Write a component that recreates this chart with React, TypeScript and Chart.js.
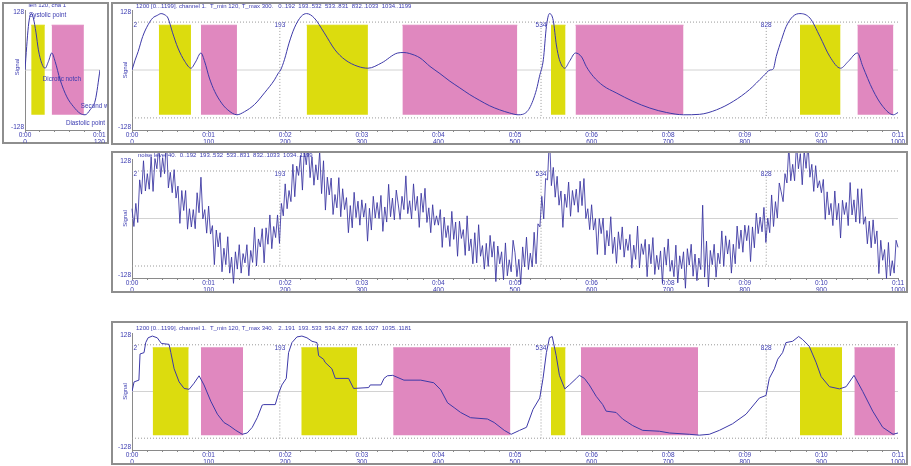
import React, { useEffect, useRef } from 'react';
import { Chart, registerables } from 'chart.js';

Chart.register(...registerables);

const FONT = '"Liberation Sans", Arial, Helvetica, sans-serif';
const TEXT_BLUE = '#3a3ab0';
const TRACE = '#3d39a8';
const YELLOW = '#dcdc0e';
const PINK = '#e088bf';
const AXIS = '#8a8a8a';
const DOT = '#9a9a9a';
const ZERO = '#d2d2d2';

// ---------- data ----------
const timeLabels = ['0:00', '0:01', '0:02', '0:03', '0:04', '0:05', '0:06', '0:08', '0:09', '0:10', '0:11'];
const yTickValues = [-128, 128];
const refLevels = [107, -107];
const rectLevels = [100, -100];
const markerSamples = [2, 193, 534, 828];

// single pulse (panel A), [sample, value]
const pulseWave: [number, number][] = [
  [0, 0], [2.7, 52], [5.4, 97], [8.1, 121], [10.8, 126], [13.5, 116], [17.8, 83], [21.6, 45], [27, 15],
  [32.4, 4], [37.8, 19], [43.2, 38], [48.6, 19], [56.7, -22], [67.5, -60], [78.3, -82], [89, -97],
  [97, -100], [105, -89], [113.5, -67], [121, 0],
];
const pulseRects: [number, number, string][] = [[10, 32, 'S'], [43, 95, 'D']];
const pulseNotes: [string, number, number][] = [
  ['Systolic point', 6.5, 123], ['Dicrotic notch', 28.7, -20], ['Second wave', 90, -80], ['Diastolic point', 66, -120],
];

// clean signal (panel B), [sample, value]
const cleanWave: [number, number][] = [
  [0, 0], [4, 22], [8, 41], [14, 75], [21, 101], [27, 116], [33, 122], [38, 126], [43, 123], [47, 116], [53, 83],
  [60, 49], [69, 19], [77, 4], [83, 18], [90, 38], [95, 18], [101, -18], [108, -48], [117, -74], [125, -89],
  [137, -100], [147, -93], [160, -77], [173, -51], [186, -22], [191, -7], [194, 0], [199, 23], [205, 60],
  [212, 94], [221, 120], [228, 126], [238, 116], [251, 83], [265, 45], [278, 23], [295, 8], [308, 4],
  [326, 16], [347, 38], [355, 39], [362, 37], [376, 27], [389, 8], [402, -8], [415, -25], [428, -40],
  [441, -55], [454, -68], [467, -80], [480, -89], [493, -96], [504, -100], [510, -99], [519, -85], [528, -44],
  [532, -14], [537, 23], [541, 97], [545, 126], [550, 110], [554, 56], [558, 23], [565, 4], [571, 19],
  [579, 38], [587, 29], [593, 8], [602, -14], [615, -35], [632, -51], [654, -70], [676, -85], [698, -95],
  [720, -100], [741, -99], [763, -89], [785, -70], [806, -44], [824, -14], [833, 0], [837, 2], [841, 30],
  [848, 68], [854, 97], [863, 120], [872, 126], [885, 116], [898, 75], [911, 30], [925, 4], [935, 19],
  [947, 38], [954, 8], [967, -44], [980, -81], [994, -100], [1000, -95],
];
const cleanRects: [number, number, string][] = [
  [35, 77, 'S'], [90, 137, 'D'], [228, 308, 'S'], [353, 503, 'D'],
  [547, 566, 'S'], [579, 720, 'D'], [872, 925, 'S'], [947, 994, 'D'],
];

// noisy signal (panel C), one value every noisyStep samples
const noisyStep = 2.5;
const noisyWave = [
  22, -18, 34, -9, 87, 55, 130, 62, 101, 66, 139, 61, 135, 112, 166, 93, 137, 101, 179, 69,
  104, 58, 110, 46, 73, -11, 63, 18, 63, -24, 22, -19, 20, -23, 58, 13, 93, -1, 20, -33,
  28, -35, -16, -104, -26, -64, -32, -120, -67, -104, -41, -123, -87, -146, -75, -114, -59, -123, -79, -100,
  -59, -129, -72, -99, -20, -107, -46, -64, -23, -100, -21, -58, 8, -68, -18, -43, 8, -56, 34, 6,
  78, 22, 63, 38, 122, 49, 118, 97, 142, 64, 155, 121, 167, 92, 139, 75, 121, 87, 151, 56,
  130, 19, 93, 53, 91, 9, 54, 24, 92, 4, 67, 20, 47, -32, 29, -21, 59, 2, 39, -15,
  42, 3, 34, -51, 23, -26, 50, 1, 36, 0, 52, -29, 26, -8, 77, 4, 46, -3, 64, 33,
  -2, 50, 20, 96, 11, 40, -1, 78, 18, 50, -20, 57, 14, 68, -9, 24, -32, 31, -15, 6,
  -15, 20, -65, 3, -43, -16, -63, 16, -47, -8, -85, -6, -45, -25, -83, 6, -73, -46, -102, -32,
  -100, -14, -85, -61, -114, -56, -108, -38, -87, -52, -142, -62, -102, -75, -138, -55, -129, -93, -120, -49,
  -77, -131, -92, -147, -64, -109, -42, -115, -78, -109, -31, -102, -12, -19, 50, -1, 90, 87, 186, 74,
  115, 48, 95, 30, 62, -20, 55, 25, 82, 5, 63, 30, 66, 14, 84, 29, 90, 0, 22, -25,
  31, -26, 0, -81, 0, -34, 1, -82, -27, -62, 4, -79, -42, -101, -30, -70, -19, -87, -46, -72,
  -36, -112, -60, -92, -17, -111, -57, -81, -47, -131, -58, -102, -43, -126, -83, -115, -73, -146, -65, -105,
  -46, -119, -94, -131, -60, -145, -84, -113, -75, -157, -68, -105, -58, -130, -80, -140, -89, -115, 30, -132,
  -51, -154, -72, -104, -58, -132, -78, -102, -28, -108, -39, -80, -48, -123, -58, -102, -17, -68, -26, -76,
  -15, -50, -16, -97, -19, -66, 12, -34, 3, -30, 25, -54, 1, -32, 53, -18, 38, 1, 80, 60,
  38, 101, 80, 163, 85, 122, 85, 168, 112, 146, 76, 154, 113, 168, 93, 122, 61, 119, 69, 85,
  58, 88, -2, 60, 8, 34, -16, 62, -3, 34, -44, 41, 9, 36, -16, 81, 8, 42, -8, 67,
  -11, 67, -13, 4, -57, -6, -66, -3, -57, -28, -124, -49, -94, -70, -135, -54, -129, -95, -123, -49, -65,
];

// staircase signal (panel D), [sample, value]
const stairWave: [number, number][] = [
  [0, 0], [2.7, 22], [9, 26], [10.5, 86], [15.7, 89], [17.9, 112], [21, 123], [26.6, 127], [33, 123], [38.4, 110],
  [48.4, 108], [50.7, 89], [55, 52], [61.5, 22], [68, 7], [74.6, 5], [81, 19], [87.6, 36], [94, 15], [102.8, -22],
  [111.5, -52], [120, -71], [126.8, -78], [135.5, -89], [144, -98], [150.4, -95], [157, -82], [163.5, -60],
  [170, -31], [172, -30], [187, -30], [191.4, -4], [195.7, 15], [201.4, 30], [204.4, 89], [208.8, 112],
  [215.3, 125], [221.8, 127], [228.4, 123], [235, 115], [241.5, 112], [243.6, 82], [250, 74], [252, 67],
  [261, 52], [265.4, 30], [282.8, 30], [289.3, 7], [309, 9], [311, 15], [325, 15], [329, 30], [333.4, 36],
  [340.4, 37], [355, 26], [377, 26], [394, 20], [403, 4], [412, -26], [420.6, -37], [429, -48], [442, -60],
  [464, -63], [472.8, -71], [486, -89], [495, -98], [506, -89], [515, -82], [523.5, -41], [532.3, -15],
  [536.6, 30], [541, 89], [545, 123], [548.6, 126], [553.8, 82], [558, 37], [565, 6], [571, 15], [580, 30],
  [584, 37], [590.6, 30], [597, 15], [606, -11], [614.5, -30], [619, -45], [632, -48], [640.5, -63],
  [653.6, -78], [666.7, -89], [688.5, -91], [701.5, -95], [727.6, -98], [740.7, -100], [753.7, -98],
  [766.8, -89], [784, -74], [801.6, -52], [819, -15], [827.7, -9], [832, 30], [838.6, 52], [843, 74],
  [849.3, 89], [853.7, 112], [862.4, 115], [870.3, 126], [875.5, 119], [884, 104], [893, 67], [899.7, 34],
  [910.5, 11], [923.6, 6], [932.3, 11], [942.6, 37], [954, 0], [967, -45], [980, -82], [993.5, -98], [1000, -95],
];
const stairRects: [number, number, string][] = [
  [27, 74, 'S'], [90, 145, 'D'], [221, 294, 'S'], [341, 494, 'D'],
  [547, 566, 'S'], [586, 739, 'D'], [872, 927, 'S'], [943, 996, 'D'],
];

const titleB = '1200 [0...1199]. channel 1.  T_min 120, T_max 300.   0..192  193..532  533..831  832..1033  1034..1199';
const titleC = 'noise level 40.  0..192  193..532  533..831  832..1033  1034..1199';
const titleD = '1200 [0...1199]. channel 1.  T_min 120, T_max 340.   2..191  193..533  534..827  828..1027  1035..1181';

// ---------- helpers ----------
type TextItem = {
  text: string; mode: 'data' | 'area' | 'axis'; x: number; y: number;
  align?: CanvasTextAlign; rotate?: boolean; layer?: 'before' | 'after'; size?: number;
};

const toPts = (arr: [number, number][]) => arr.map(([x, y]) => ({ x, y }));

function traceDs(points: { x: number; y: number }[], extra: any = {}) {
  return { data: points, borderColor: TRACE, backgroundColor: TRACE, borderWidth: 1, pointRadius: 0, fill: false, order: 0, ...extra };
}
function hLine(y: number, x0: number, x1: number, color: string, dash: number[]) {
  return { data: [{ x: x0, y }, { x: x1, y }], borderColor: color, borderWidth: 1, borderDash: dash, pointRadius: 0, fill: false, order: 10 };
}
function vLine(x: number, y0: number, y1: number) {
  return { data: [{ x, y: y0 }, { x, y: y1 }], borderColor: DOT, borderWidth: 1, borderDash: [1, 2], pointRadius: 0, fill: false, order: 10 };
}
function rectDs(x0: number, x1: number, kind: string) {
  const c = kind === 'S' ? YELLOW : PINK;
  return {
    data: [{ x: x0, y: rectLevels[0] }, { x: x1, y: rectLevels[0] }],
    borderColor: c, backgroundColor: c, borderWidth: 1, pointRadius: 0,
    fill: { value: rectLevels[1] }, order: 5,
  };
}
function guideSets(xMax: number, withMarkers: boolean) {
  const sets: any[] = [hLine(0, 0, xMax, ZERO, [])];
  if (withMarkers) {
    refLevels.forEach((lv) => sets.push(hLine(lv, 0, xMax, DOT, [1, 2])));
    markerSamples.slice(1).forEach((m) => sets.push(vLine(m, 94, refLevels[1])));
  }
  return sets;
}
function markerTexts(): TextItem[] {
  return markerSamples.map((m, i) => ({
    text: String(m), mode: 'data' as const, x: m, y: rectLevels[0], align: (i === 0 ? 'left' : 'center') as CanvasTextAlign, size: 6.5,
  }));
}

function textPlugin(items: TextItem[]) {
  const draw = (chart: any, layer: string) => {
    const { ctx, chartArea: a, scales } = chart;
    ctx.save();
    for (const it of items) {
      if ((it.layer || 'before') !== layer) continue;
      let px: number;
      let py: number;
      if (it.mode === 'data') {
        px = scales.x.getPixelForValue(it.x);
        py = scales.y.getPixelForValue(it.y);
      } else if (it.mode === 'axis') {
        px = a.left + it.x;
        py = (a.top + a.bottom) / 2 + it.y;
      } else {
        px = a.left + it.x;
        py = a.top + it.y;
      }
      ctx.font = `${it.size || 6}px ${FONT}`;
      ctx.fillStyle = TEXT_BLUE;
      ctx.textAlign = it.align || 'left';
      ctx.textBaseline = 'middle';
      if (it.rotate) {
        ctx.save();
        ctx.translate(px, py);
        ctx.rotate(-Math.PI / 2);
        ctx.textAlign = 'center';
        ctx.fillText(it.text, 0, 0);
        ctx.restore();
      } else {
        ctx.fillText(it.text, px, py);
      }
    }
    ctx.restore();
  };
  return {
    id: 'panelText',
    beforeDatasetsDraw: (c: any) => draw(c, 'before'),
    afterDatasetsDraw: (c: any) => draw(c, 'after'),
  };
}

type Spec = {
  left: number; top: number; width: number; height: number;
  padTop: number; padRight: number; yWidth: number; xHeight: number;
  xMax: number; step: number; labelFor: (v: number) => string | string[];
  datasets: any[]; texts: TextItem[];
};

function buildConfig(spec: Spec): any {
  const tickFont = { size: 6.5, family: FONT, lineHeight: 1 };
  return {
    type: 'line',
    data: { datasets: spec.datasets },
    options: {
      responsive: false,
      animation: false,
      devicePixelRatio: 1,
      events: [],
      layout: { padding: { left: 0, right: spec.padRight, top: spec.padTop, bottom: 0 }, autoPadding: false },
      plugins: { legend: { display: false }, tooltip: { enabled: false }, title: { display: false } },
      scales: {
        x: {
          type: 'linear', min: 0, max: spec.xMax,
          afterFit: (s: any) => { s.height = spec.xHeight; },
          grid: { display: true, drawOnChartArea: false, drawTicks: true, tickLength: 2, color: AXIS, tickColor: AXIS },
          border: { display: true, color: AXIS, width: 1 },
          ticks: {
            stepSize: spec.step, autoSkip: false, maxRotation: 0, minRotation: 0, includeBounds: false,
            padding: 0, color: TEXT_BLUE, font: tickFont,
            callback: (v: any) => spec.labelFor(Number(v)),
          },
        },
        y: {
          type: 'linear', min: -134, max: 134,
          afterFit: (s: any) => { s.width = spec.yWidth; },
          afterBuildTicks: (s: any) => { s.ticks = yTickValues.map((v) => ({ value: v })); },
          grid: { display: false, drawTicks: false, tickLength: 0 },
          border: { display: true, color: AXIS, width: 1 },
          ticks: { padding: 1, color: TEXT_BLUE, font: tickFont, callback: (v: any) => String(v) },
        },
      },
    },
    plugins: [textPlugin(spec.texts)],
  };
}

function Panel({ spec }: { spec: Spec }) {
  const ref = useRef<HTMLCanvasElement | null>(null);
  useEffect(() => {
    if (!ref.current) return;
    const chart = new Chart(ref.current, buildConfig(spec));
    return () => chart.destroy();
  }, []);
  return (
    <canvas
      ref={ref}
      width={spec.width}
      height={spec.height}
      style={{ position: 'absolute', left: spec.left, top: spec.top, width: spec.width, height: spec.height }}
    />
  );
}

const longLabel = (v: number) => (v % 100 === 0 ? [timeLabels[v / 100], String(v)] : '');
const pulseLabel = (v: number) => (v === 0 ? ['0:00', '0'] : v === 120 ? ['0:01', '120'] : '');

const specA: Spec = {
  left: 4, top: 4, width: 103, height: 139, padTop: 6, padRight: 7, yWidth: 21, xHeight: 13,
  xMax: 121, step: 24, labelFor: pulseLabel,
  datasets: [
    traceDs(toPts(pulseWave), { cubicInterpolationMode: 'monotone' }),
    ...pulseRects.map(([a, b, k]) => rectDs(a, b, k)),
    ...guideSets(121, false),
  ],
  texts: [
    { text: 'len 120, cha 1', mode: 'area', x: 3.5, y: -5 },
    { text: 'Signal', mode: 'axis', x: -7.5, y: -3, rotate: true },
    ...pulseNotes.map(([t, x, y]) => ({ text: t, mode: 'data' as const, x, y, layer: 'after' as const, size: 6.3 })),
  ],
};

const specB: Spec = {
  left: 113, top: 4, width: 793, height: 139, padTop: 6, padRight: 8, yWidth: 19, xHeight: 13,
  xMax: 1000, step: 20, labelFor: longLabel,
  datasets: [
    traceDs(toPts(cleanWave), { cubicInterpolationMode: 'monotone' }),
    ...cleanRects.map(([a, b, k]) => rectDs(a, b, k)),
    ...guideSets(1000, true),
  ],
  texts: [
    { text: titleB, mode: 'area', x: 4, y: -4 },
    { text: 'Signal', mode: 'axis', x: -6.5, y: 0, rotate: true },
    ...markerTexts(),
  ],
};

const specC: Spec = {
  left: 113, top: 153, width: 793, height: 138, padTop: 6, padRight: 8, yWidth: 19, xHeight: 13,
  xMax: 1000, step: 20, labelFor: longLabel,
  datasets: [
    traceDs(noisyWave.map((y, i) => ({ x: i * noisyStep, y })), { clip: false, borderColor: 'rgba(55,50,160,0.85)' }),
    ...guideSets(1000, true),
  ],
  texts: [
    { text: titleC, mode: 'area', x: 6, y: -4 },
    { text: 'Signal', mode: 'axis', x: -6.5, y: 0, rotate: true },
    ...markerTexts(),
  ],
};

const specD: Spec = {
  left: 113, top: 323, width: 793, height: 140, padTop: 10, padRight: 8, yWidth: 19, xHeight: 13,
  xMax: 1000, step: 20, labelFor: longLabel,
  datasets: [
    traceDs(toPts(stairWave)),
    ...stairRects.map(([a, b, k]) => rectDs(a, b, k)),
    ...guideSets(1000, true),
  ],
  texts: [
    { text: titleD, mode: 'area', x: 4, y: -5 },
    { text: 'Signal', mode: 'axis', x: -6.5, y: 0, rotate: true },
    ...markerTexts(),
  ],
};

const frames = [
  { left: 2, top: 2, width: 107, height: 142 },
  { left: 111, top: 2, width: 797, height: 143 },
  { left: 111, top: 151, width: 797, height: 142 },
  { left: 111, top: 321, width: 797, height: 144 },
];

export default function App() {
  return (
    <div style={{ position: 'absolute', left: 0, top: 0, width: 911, height: 466, background: '#ffffff', overflow: 'hidden' }}>
      {frames.map((f, i) => (
        <div
          key={i}
          style={{
            position: 'absolute', left: f.left, top: f.top, width: f.width, height: f.height,
            boxSizing: 'border-box', border: '2px solid #8e8e8e',
          }}
        />
      ))}
      <Panel spec={specA} />
      <Panel spec={specB} />
      <Panel spec={specC} />
      <Panel spec={specD} />
    </div>
  );
}
